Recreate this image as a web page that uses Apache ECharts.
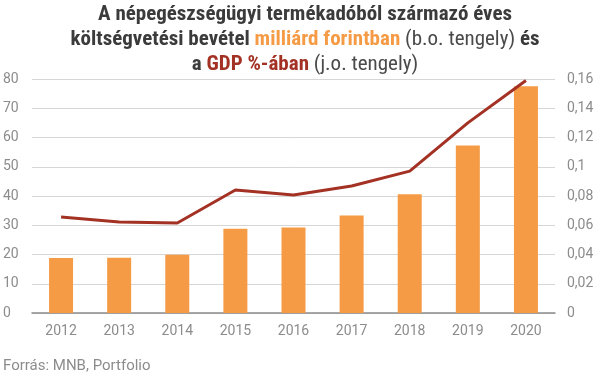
<!DOCTYPE html>
<html><head><meta charset="utf-8">
<script src="https://cdn.jsdelivr.net/npm/echarts@6/dist/echarts.min.js"></script>
<style>html,body{margin:0;padding:0;background:#fff}#c{width:605px;height:379px}</style>
</head><body><div id="c"></div>
<script>
const years = ['2012','2013','2014','2015','2016','2017','2018','2019','2020'];
const revenueBnHuf = [18.8, 18.9, 19.9, 28.8, 29.2, 33.3, 40.6, 57.3, 77.5];
const gdpPercent = [0.0656, 0.0622, 0.0615, 0.0841, 0.0807, 0.0868, 0.097, 0.130, 0.159];
const leftTicks = [0, 10, 20, 30, 40, 50, 60, 70, 80];
const rightTicks = ['0','0,02','0,04','0,06','0,08','0,1','0,12','0,14','0,16'];

const chart = echarts.init(document.getElementById('c'), null, {renderer: 'canvas'});
const titleFont = '"Roboto Condensed", "Liberation Sans Narrow", Roboto, sans-serif';
const labelColor = '#8c8c8c';
const fs = 21, lh = 25;
chart.setOption({
  animation: false,
  textStyle: {fontFamily: 'Roboto, sans-serif'},
  title: [{
    text: '{b|A népegészségügyi termékadóból származó éves}\n{b|költségvetési bevétel }{o|milliárd forintban}{n| (b.o. tengely) }{b|és}\n{b|a }{r|GDP %-ában}{n| (j.o. tengely)}',
    left: 305, top: 2, padding: 0, textAlign: 'center',
    textStyle: {
      lineHeight: lh,
      rich: {
        b: {fontFamily: titleFont, fontWeight: 'bold', fontSize: fs, color: '#3b3b3b', lineHeight: lh},
        o: {fontFamily: titleFont, fontWeight: 'bold', fontSize: fs, color: '#F59B45', lineHeight: lh},
        r: {fontFamily: titleFont, fontWeight: 'bold', fontSize: fs, color: '#A33224', lineHeight: lh},
        n: {fontFamily: titleFont, fontWeight: 'normal', fontSize: fs, color: '#4a4a4a', lineHeight: lh}
      }
    }
  }, {
    text: 'Forrás: MNB, Portfolio',
    left: 3, top: 359, padding: 0,
    textStyle: {fontFamily: 'Roboto, sans-serif', fontWeight: 'normal', fontSize: 15, color: labelColor}
  }],
  grid: {left: 32, right: 50, top: 79, bottom: 66, containLabel: false},
  xAxis: {
    type: 'category', data: years,
    axisLine: {lineStyle: {color: '#8c8c8c', width: 1.5}},
    axisTick: {show: false},
    axisLabel: {color: labelColor, fontSize: 14, margin: 11, fontFamily: 'Roboto, sans-serif'}
  },
  yAxis: [{
    type: 'value', min: 0, max: 80, interval: 10,
    axisLine: {show: false}, axisTick: {show: false},
    splitLine: {lineStyle: {color: '#d6d6d6', width: 1}},
    axisLabel: {color: labelColor, fontSize: 14, align: 'left', margin: 29,
      formatter: v => String(leftTicks[Math.round(v / 10)])}
  }, {
    type: 'value', min: 0, max: 0.16, interval: 0.02,
    axisLine: {show: false}, axisTick: {show: false},
    splitLine: {show: false},
    axisLabel: {color: labelColor, fontSize: 14, align: 'left', margin: 12,
      formatter: v => rightTicks[Math.round(v / 0.02)]}
  }],
  series: [{
    type: 'bar', data: revenueBnHuf, yAxisIndex: 0, barWidth: 24,
    itemStyle: {color: '#F59B45'}
  }, {
    type: 'line', data: gdpPercent, yAxisIndex: 1,
    symbol: 'none', lineStyle: {color: '#A33224', width: 3}
  }]
});
</script></body></html>
